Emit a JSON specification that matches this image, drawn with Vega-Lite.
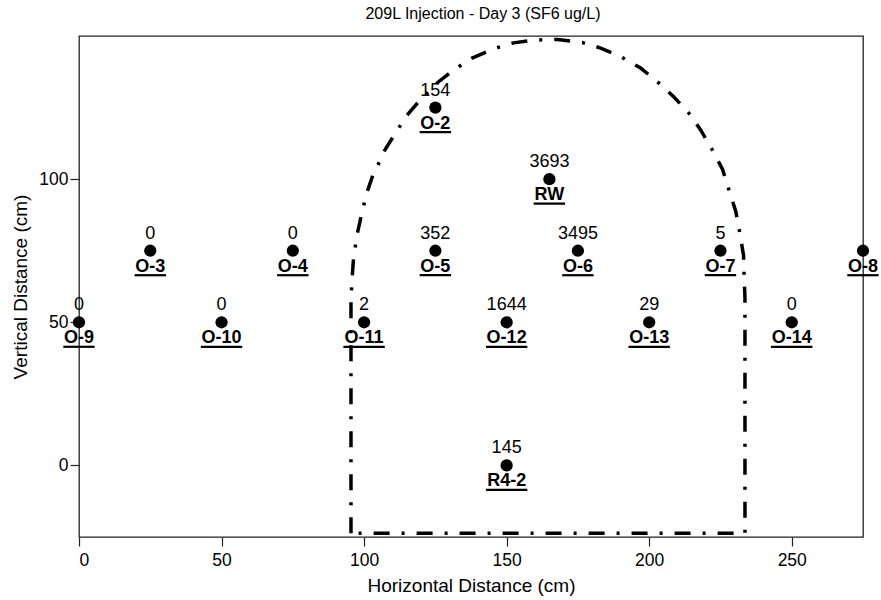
{
  "$schema": "https://vega.github.io/schema/vega-lite/v6.json",
  "width": 784,
  "height": 501,
  "autosize": {"type": "none"},
  "padding": {"left": 79, "top": 36, "right": 18, "bottom": 63},
  "background": "white",
  "title": {"text": "209L Injection - Day 3 (SF6 ug/L)", "font": "Liberation Sans", "fontSize": 16, "fontWeight": "normal", "color": "black", "anchor": "middle", "dx": 12, "offset": 10},
  "datasets": {
    "wells": [
      {"name": "O-2", "x": 125, "y": 125, "value": "154"},
      {"name": "RW", "x": 165, "y": 100, "value": "3693"},
      {"name": "O-3", "x": 25, "y": 75, "value": "0"},
      {"name": "O-4", "x": 75, "y": 75, "value": "0"},
      {"name": "O-5", "x": 125, "y": 75, "value": "352"},
      {"name": "O-6", "x": 175, "y": 75, "value": "3495"},
      {"name": "O-7", "x": 225, "y": 75, "value": "5"},
      {"name": "O-8", "x": 275, "y": 75, "value": ""},
      {"name": "O-9", "x": 0, "y": 50, "value": "0"},
      {"name": "O-10", "x": 50, "y": 50, "value": "0"},
      {"name": "O-11", "x": 100, "y": 50, "value": "2"},
      {"name": "O-12", "x": 150, "y": 50, "value": "1644"},
      {"name": "O-13", "x": 200, "y": 50, "value": "29"},
      {"name": "O-14", "x": 250, "y": 50, "value": "0"},
      {"name": "R4-2", "x": 150, "y": 0, "value": "145"}
    ],
    "arch": [
      {"i": 0, "x": 95.4, "y": -23.7},
      {"i": 1, "x": 95.4, "y": 57.7},
      {"i": 2, "x": 95.8, "y": 65.4},
      {"i": 3, "x": 96.3, "y": 72.4},
      {"i": 4, "x": 97.5, "y": 80.4},
      {"i": 5, "x": 99.3, "y": 88.6},
      {"i": 6, "x": 101.1, "y": 95.6},
      {"i": 7, "x": 103.3, "y": 102.1},
      {"i": 8, "x": 104.6, "y": 104.3},
      {"i": 9, "x": 106.8, "y": 109.4},
      {"i": 10, "x": 111.0, "y": 116.1},
      {"i": 11, "x": 115.1, "y": 122.4},
      {"i": 12, "x": 119.1, "y": 127.0},
      {"i": 13, "x": 125.6, "y": 133.6},
      {"i": 14, "x": 131.4, "y": 138.1},
      {"i": 15, "x": 137.9, "y": 142.3},
      {"i": 16, "x": 145.4, "y": 145.5},
      {"i": 17, "x": 152.4, "y": 147.6},
      {"i": 18, "x": 160.2, "y": 148.6},
      {"i": 19, "x": 167.8, "y": 148.8},
      {"i": 20, "x": 176.6, "y": 147.7},
      {"i": 21, "x": 183.0, "y": 145.8},
      {"i": 22, "x": 190.0, "y": 142.8},
      {"i": 23, "x": 197.0, "y": 138.8},
      {"i": 24, "x": 202.9, "y": 134.0},
      {"i": 25, "x": 208.6, "y": 128.8},
      {"i": 26, "x": 213.9, "y": 123.1},
      {"i": 27, "x": 218.1, "y": 117.1},
      {"i": 28, "x": 222.2, "y": 110.1},
      {"i": 29, "x": 225.7, "y": 103.5},
      {"i": 30, "x": 228.0, "y": 96.2},
      {"i": 31, "x": 230.4, "y": 88.6},
      {"i": 32, "x": 231.8, "y": 81.1},
      {"i": 33, "x": 233.1, "y": 73.4},
      {"i": 34, "x": 233.3, "y": 65.8},
      {"i": 35, "x": 233.6, "y": 58.4},
      {"i": 36, "x": 233.6, "y": -23.7},
      {"i": 37, "x": 95.4, "y": -23.7}
    ]
  },
  "encoding": {
    "x": {"field": "x", "type": "quantitative", "scale": {"domain": [0, 275], "nice": false, "zero": false},
      "axis": {"title": "Horizontal Distance (cm)", "values": [0, 50, 100, 150, 200, 250], "labelPadding": 5, "titlePadding": 8}},
    "y": {"field": "y", "type": "quantitative", "scale": {"domain": [-25, 150], "nice": false, "zero": false},
      "axis": {"title": "Vertical Distance (cm)", "values": [0, 50, 100], "labelPadding": 2, "titlePadding": 8}}
  },
  "layer": [
    {
      "data": {"name": "arch"},
      "mark": {"type": "line", "color": "black", "strokeWidth": 3.5, "strokeDash": [16, 12, 3, 12], "strokeCap": "butt", "strokeJoin": "miter"},
      "encoding": {"order": {"field": "i", "type": "quantitative"}}
    },
    {
      "data": {"name": "wells"},
      "mark": {"type": "point", "filled": true, "shape": "circle", "size": 150, "color": "black", "opacity": 1}
    },
    {
      "data": {"name": "wells"},
      "mark": {"type": "text", "font": "Liberation Sans", "fontSize": 18, "color": "black", "dy": -12, "baseline": "alphabetic", "align": "center"},
      "encoding": {"text": {"field": "value"}}
    },
    {
      "data": {"name": "wells"},
      "mark": {"type": "text", "font": "Liberation Sans", "fontSize": 18, "fontWeight": "bold", "color": "black", "dy": 21, "baseline": "alphabetic", "align": "center"},
      "encoding": {"text": {"field": "name"}}
    },
    {
      "data": {"name": "wells"},
      "transform": [{"filter": "length(datum.name) <= 3"}],
      "mark": {"type": "rule", "color": "black", "strokeWidth": 2.2, "xOffset": -15.7, "x2Offset": 15.7, "yOffset": 24.5},
      "encoding": {"x2": {"field": "x"}}
    },
    {
      "data": {"name": "wells"},
      "transform": [{"filter": "length(datum.name) == 4"}],
      "mark": {"type": "rule", "color": "black", "strokeWidth": 2.2, "xOffset": -20.7, "x2Offset": 20.7, "yOffset": 24.5},
      "encoding": {"x2": {"field": "x"}}
    }
  ],
  "config": {
    "view": {"stroke": "#222", "strokeWidth": 1.3},
    "axis": {"grid": false, "domain": false, "tickColor": "#222", "tickSize": 9, "tickWidth": 1.2,
      "labelFont": "Liberation Sans", "labelFontSize": 17.5, "labelColor": "black",
      "titleFont": "Liberation Sans", "titleFontSize": 19, "titleFontWeight": "normal", "titleColor": "black"}
  }
}
